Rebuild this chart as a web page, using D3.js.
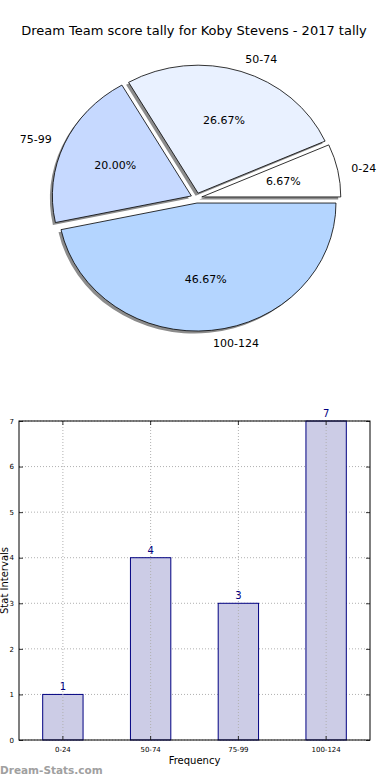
<!DOCTYPE html>
<html>
<head>
<meta charset="utf-8">
<script src="https://cdn.jsdelivr.net/npm/d3@7"></script>
<style>
  body { margin: 0; background: #fff; }
  svg { display: block; font-family: "DejaVu Sans", sans-serif; }
</style>
</head>
<body>
<div id="wrapper"></div>
<script>
const categories = ["0-24", "50-74", "75-99", "100-124"];
const counts = [1, 4, 3, 7];
const pieColors = ["#ffffff", "#e9f1ff", "#c6d9ff", "#b4d5ff"];
const yTicks = [0, 1, 2, 3, 4, 5, 6, 7];
const title = "Dream Team score tally for Koby Stevens - 2017 tally";

const svg = d3.select("#wrapper").append("svg")
    .attr("width", 390)
    .attr("height", 780);

svg.append("text")
    .attr("x", 194).attr("y", 35)
    .attr("text-anchor", "middle")
    .attr("font-size", 13)
    .text(title);

// pie (matplotlib style: ccw from east, exploded, shadow, slightly squashed)
const pie = { cx: 196.4, cy: 198, r: 139, ky: 128 / 139, explode: 5.5 };
const total = d3.sum(counts);

const slices = d3.pie()
    .sort(null)
    .startAngle(Math.PI / 2)
    .endAngle(Math.PI / 2 - 2 * Math.PI)(counts);

const arc = d3.arc().innerRadius(0).outerRadius(pie.r);

const pieG = svg.append("g");

slices.forEach(s => {
    const mid = (s.startAngle + s.endAngle) / 2;
    s.ox = pie.cx + Math.sin(mid) * pie.explode;
    s.oy = pie.cy - Math.cos(mid) * pie.explode * pie.ky;
    s.mid = mid;
});

// shadows first
slices.forEach(s => {
    pieG.append("path")
        .attr("d", arc(s))
        .attr("transform", `translate(${s.ox - 2.5},${s.oy + 2.5}) scale(1,${pie.ky})`)
        .attr("fill", "#8c8c8c");
});

slices.forEach((s, i) => {
    pieG.append("path")
        .attr("d", arc(s))
        .attr("transform", `translate(${s.ox},${s.oy}) scale(1,${pie.ky})`)
        .attr("fill", pieColors[i])
        .attr("stroke", "#000")
        .attr("stroke-width", 0.8)
        .attr("vector-effect", "non-scaling-stroke");

    const lx = s.ox + 1.1 * pie.r * Math.sin(s.mid);
    const ly = s.oy - 1.1 * pie.r * Math.cos(s.mid) * pie.ky;
    pieG.append("text")
        .attr("x", lx).attr("y", ly)
        .attr("dy", "0.35em")
        .attr("font-size", 11)
        .attr("text-anchor", Math.sin(s.mid) > 0 ? "start" : "end")
        .text(categories[i]);

    const px = s.ox + 0.6 * pie.r * Math.sin(s.mid);
    const py = s.oy - 0.6 * pie.r * Math.cos(s.mid) * pie.ky;
    pieG.append("text")
        .attr("x", px).attr("y", py)
        .attr("dy", "0.35em")
        .attr("font-size", 11)
        .attr("text-anchor", "middle")
        .text(d3.format(".2f")(counts[i] / total * 100) + "%");
});

// bar chart
const bar = { left: 19, right: 370, top: 421, bottom: 740 };

const xScaler = d3.scaleBand()
    .domain(categories)
    .range([bar.left, bar.right])
    .paddingInner(0.54)
    .paddingOuter(0.27);

const yScaler = d3.scaleLinear()
    .domain([0, 7])
    .range([bar.bottom, bar.top]);

const barG = svg.append("g");

// grid
barG.selectAll(".hgrid").data(yTicks).join("line")
    .attr("x1", bar.left).attr("x2", bar.right)
    .attr("y1", d => yScaler(d)).attr("y2", d => yScaler(d))
    .attr("stroke", "#b0b0b0").attr("stroke-dasharray", "1,2");

barG.selectAll(".bar").data(counts).join("rect")
    .attr("x", (d, i) => xScaler(categories[i]))
    .attr("y", d => yScaler(d))
    .attr("width", xScaler.bandwidth())
    .attr("height", d => bar.bottom - yScaler(d))
    .attr("fill", "#ccccE6")
    .attr("stroke", "#000080")
    .attr("stroke-width", 1);

barG.selectAll(".vgrid").data(categories).join("line")
    .attr("x1", d => xScaler(d) + xScaler.bandwidth() / 2)
    .attr("x2", d => xScaler(d) + xScaler.bandwidth() / 2)
    .attr("y1", bar.top).attr("y2", bar.bottom)
    .attr("stroke", "#b0b0b0").attr("stroke-dasharray", "1,2");

barG.selectAll(".val").data(counts).join("text")
    .attr("x", (d, i) => xScaler(categories[i]) + xScaler.bandwidth() / 2)
    .attr("y", d => yScaler(d) - 4)
    .attr("text-anchor", "middle")
    .attr("font-size", 10)
    .attr("fill", "#000080")
    .text(d => d);

// axes
const xAxis = d3.axisBottom(xScaler).tickSize(-4).tickPadding(7);
const yAxis = d3.axisLeft(yScaler).tickValues(yTicks).tickFormat(d3.format("d")).tickSize(-4).tickPadding(5);

const gx = barG.append("g")
    .attr("transform", `translate(0,${bar.bottom})`)
    .call(xAxis);
const gy = barG.append("g")
    .attr("transform", `translate(${bar.left},0)`)
    .call(yAxis);
barG.append("g")
    .attr("transform", `translate(0,${bar.top})`)
    .call(d3.axisTop(xScaler).tickSize(-4).tickFormat(""));
barG.append("g")
    .attr("transform", `translate(${bar.right},0)`)
    .call(d3.axisRight(yScaler).tickValues(yTicks).tickSize(-4).tickFormat(""));

barG.selectAll(".domain").remove();
barG.selectAll(".tick line").attr("stroke", "#000").attr("stroke-width", 0.8);
gx.selectAll("text").attr("font-size", 7).attr("font-family", "DejaVu Sans");
gy.selectAll("text").attr("font-size", 7).attr("font-family", "DejaVu Sans");

barG.append("rect")
    .attr("x", bar.left).attr("y", bar.top)
    .attr("width", bar.right - bar.left)
    .attr("height", bar.bottom - bar.top)
    .attr("fill", "none")
    .attr("stroke", "#000")
    .attr("stroke-width", 1);

svg.append("text")
    .attr("x", (bar.left + bar.right) / 2).attr("y", 764)
    .attr("text-anchor", "middle")
    .attr("font-size", 10)
    .text("Frequency");

svg.append("text")
    .attr("transform", `translate(8,${(bar.top + bar.bottom) / 2}) rotate(-90)`)
    .attr("text-anchor", "middle")
    .attr("font-size", 10)
    .text("Stat Intervals");

svg.append("text")
    .attr("x", 0).attr("y", 774)
    .attr("font-size", 10.5)
    .attr("font-weight", "bold")
    .attr("fill", "#a0a0a0")
    .text("Dream-Stats.com");
</script>
</body>
</html>
